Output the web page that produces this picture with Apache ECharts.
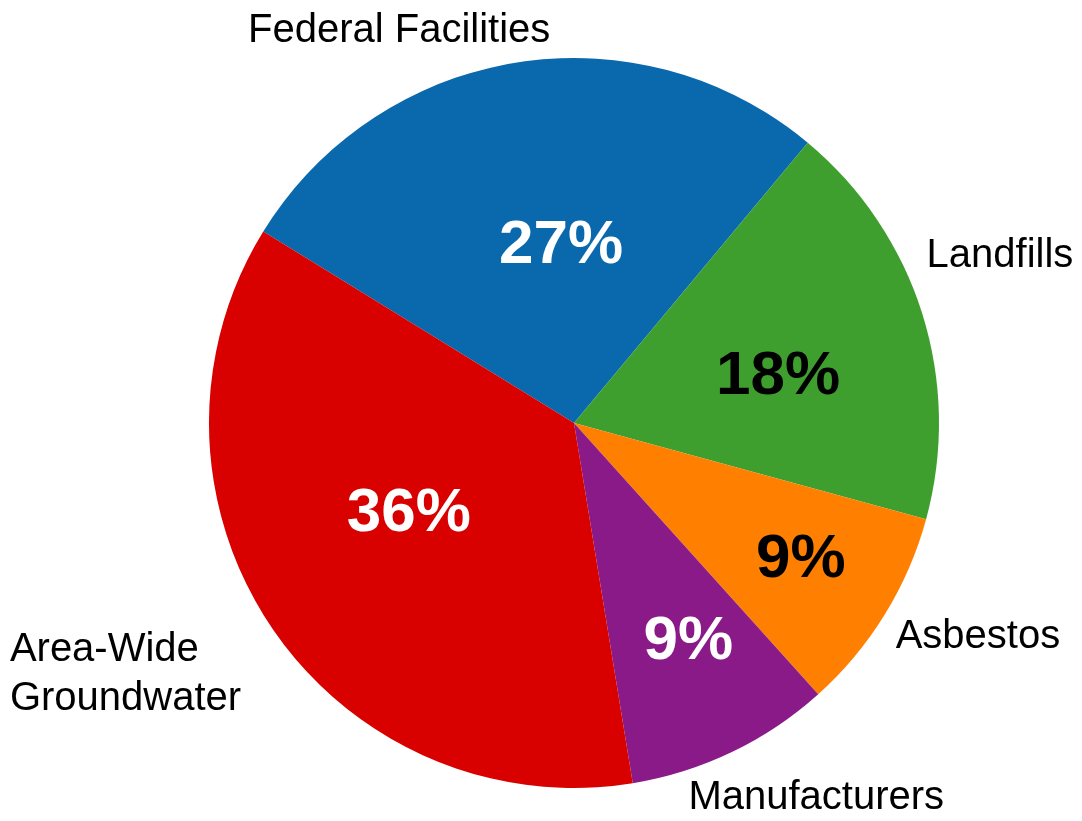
<!DOCTYPE html>
<html>
<head>
<meta charset="utf-8">
<script src="https://cdn.jsdelivr.net/npm/echarts@6/dist/echarts.min.js"></script>
<style>
html, body { margin: 0; padding: 0; background: #fff; }
#main { width: 1082px; height: 821px; }
</style>
</head>
<body>
<div id="main"></div>
<script>
// slice names and counts (11 sites in total)
var names = ['Federal Facilities', 'Landfills', 'Asbestos', 'Manufacturers', 'Area-Wide\nGroundwater'];
var counts = [3, 2, 1, 1, 4];
var colors = ['#0a68ad', '#3f9f2e', '#ff8000', '#8a1a88', '#d90000'];
var pctColors = ['#fff', '#000', '#000', '#fff', '#fff'];

// label nudges away from the default inner point
var pctShift = [[17, 6], [27, 10], [69, 40], [34, 52], [-11, -12]];
var nameShift = [[-145, -209], [249, -111], [246, 117], [162, 208], [-410, 148]];

var chart = echarts.init(document.getElementById('main'));

var pieData = [];
var nameData = [];
for (var i = 0; i < names.length; i++) {
    pieData.push({
        name: names[i],
        value: counts[i],
        itemStyle: { color: colors[i] },
        label: { color: pctColors[i] }
    });
    nameData.push({ name: names[i], value: counts[i] });
}

var pieBase = {
    type: 'pie',
    center: [574, 423],
    radius: 365,
    startAngle: 148.36,
    clockwise: true,
    avoidLabelOverlap: false,
    labelLine: { show: false },
    emphasis: { disabled: true }
};

var option = {
    animation: false,
    backgroundColor: '#fff',
    series: [
        Object.assign({}, pieBase, {
            data: pieData,
            label: {
                show: true,
                position: 'inside',
                fontFamily: 'Liberation Sans, Arial, sans-serif',
                fontWeight: 'bold',
                fontSize: 62,
                formatter: function (p) { return Math.round(p.percent) + '%'; }
            },
            labelLayout: function (p) {
                var s = pctShift[p.dataIndex];
                return { dx: s[0], dy: s[1] };
            }
        }),
        Object.assign({}, pieBase, {
            data: nameData,
            silent: true,
            itemStyle: { color: 'rgba(0,0,0,0)' },
            label: {
                show: true,
                position: 'inside',
                color: '#000',
                fontFamily: 'Liberation Sans, Arial, sans-serif',
                fontSize: 40,
                lineHeight: 49,
                formatter: '{b}'
            },
            labelLayout: function (p) {
                var s = nameShift[p.dataIndex];
                var r = { dx: s[0], dy: s[1] };
                if (p.dataIndex === 4) r.align = 'left';
                return r;
            }
        })
    ]
};
chart.setOption(option);
</script>
</body>
</html>
